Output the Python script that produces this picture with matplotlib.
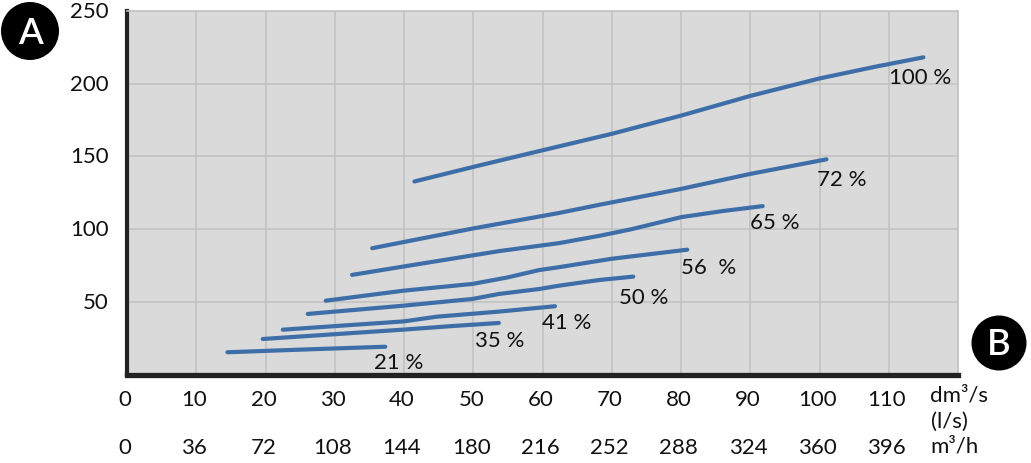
import matplotlib
matplotlib.use("Agg")
import matplotlib.pyplot as plt
from matplotlib.patches import Ellipse

plt.rcParams['font.family'] = ['Lato', 'DejaVu Sans']

# -- Data ----------------------------------------------------------------------
x_ticks = [0, 10, 20, 30, 40, 50, 60, 70, 80, 90, 100, 110]
x_ticks_m3h = ["0", "36", "72", "108", "144", "180", "216", "252", "288", "324", "360", "396"]
y_ticks = [50, 100, 150, 200, 250]

curve_labels = ["100 %", "72 %", "65 %", "56  %", "50 %", "41 %", "35 %", "21 %"]

x100 = [41.5, 50, 60, 70, 80, 90, 100, 108, 115]
y100 = [132.8, 142.8, 154.2, 165.5, 178, 191.5, 203.5, 211.5, 218]
x72 = [35.4, 49.9, 62.4, 68.2, 80, 90, 101]
y72 = [87, 100.5, 111.2, 116.8, 127.7, 138, 148]
x65 = [32.5, 40, 53.7, 62.4, 68.2, 72.8, 80, 86, 91.8]
y65 = [68.7, 74.5, 85, 90.5, 95.5, 100, 108.3, 112.5, 115.9]
x56 = [28.7, 40, 49.9, 55, 59.5, 62.4, 69.9, 80.9]
y56 = [51, 57.9, 62.5, 67, 72, 74, 79.7, 86]
x50 = [26.1, 40, 49.9, 53.7, 59.5, 62.4, 68.2, 73.1]
y50 = [41.9, 47.6, 52.2, 55.6, 59, 61.3, 65.2, 67.5]
x41 = [22.5, 40, 44.7, 53.7, 61.8]
y41 = [31.1, 36.8, 40, 43.5, 47.2]
x35 = [19.6, 30, 39.8, 47, 53.7]
y35 = [24.7, 28, 31.1, 33.6, 35.7]
x21 = [14.5, 25, 37.3]
y21 = [15.6, 17.4, 19.4]

xs = [x100, x72, x65, x56, x50, x41, x35, x21]
ys = [y100, y72, y65, y56, y50, y41, y35, y21]

# label anchor (left edge, vertical centre) in data units
lab_x = [110.1, 99.7, 89.9, 80.0, 71.1, 60.0, 50.2, 35.6]
lab_y = [204.7, 134.6, 104.9, 74.0, 53.8, 36.2, 24.2, 8.7]

# -- Figure --------------------------------------------------------------------
W, H = 1031, 464
fig = plt.figure(figsize=(W / 100, H / 100), dpi=100)
ax = fig.add_axes([127 / W, (H - 376) / H, (958 - 127) / W, (376 - 11.7) / H])
ax.set_facecolor("#dadada")
ax.set_xlim(0, 120)
ax.set_ylim(0, 250)

ax.set_xticks(range(0, 121, 10))
ax.set_yticks(range(0, 251, 50))
ax.grid(True, color="#c2c2c2", linewidth=1.2, zorder=0)
ax.set_axisbelow(True)
ax.tick_params(length=0, labelbottom=False, labelleft=False)

for side in ["top", "right"]:
    ax.spines[side].set_color("#c2c2c2")
    ax.spines[side].set_linewidth(1.2)
ax.spines["bottom"].set_color("#222222")
ax.spines["bottom"].set_linewidth(3.8)
ax.spines["left"].set_color("#222222")
ax.spines["left"].set_linewidth(3.0)

line_color = "#3e6ea8"
for xv, yv in zip(xs, ys):
    ax.plot(xv, yv, color=line_color, linewidth=3.0, solid_capstyle="round",
            solid_joinstyle="round", zorder=3)

fs = 16
for txt, lx, ly in zip(curve_labels, lab_x, lab_y):
    ax.text(lx, ly, txt, fontsize=fs, color="#111111", ha="left", va="center", zorder=4)

# y tick labels
ytr = ax.get_yaxis_transform()
for v in y_ticks:
    ax.text(-0.022, v, str(v), transform=ytr, fontsize=fs, ha="right", va="center",
            color="#111111", clip_on=False)

# x tick labels: two rows (dm3/s and m3/h)
xtr = ax.get_xaxis_transform()
row1 = -(400 - 376) / (376 - 11.7)
row2 = -(448 - 376) / (376 - 11.7)
for v, m in zip(x_ticks, x_ticks_m3h):
    ax.text(v - 0.3, row1, str(v), transform=xtr, fontsize=fs, ha="center", va="center",
            color="#111111", clip_on=False)
    ax.text(v - 0.3, row2, m, transform=xtr, fontsize=fs, ha="center", va="center",
            color="#111111", clip_on=False)

# unit labels
fig.text(930 / W, 1 - 396 / H, "dm³/s", fontsize=fs, ha="left", va="center", color="#111111")
fig.text(931 / W, 1 - 422 / H, "(l/s)", fontsize=fs, ha="left", va="center", color="#111111")
fig.text(930 / W, 1 - 447 / H, "m³/h", fontsize=fs, ha="left", va="center", color="#111111")

# axis badges A and B
for cx, cy, r, letter in [(30, 32, 29, "A"), (999, 344, 27.5, "B")]:
    ell = Ellipse((cx / W, 1 - cy / H), 2 * r / W, 2 * r / H, transform=fig.transFigure,
                  facecolor="black", edgecolor="none")
    fig.patches.append(ell)
    fig.text(cx / W, 1 - (cy + 1) / H, letter, fontsize=26, color="white",
             fontweight="semibold", ha="center", va="center")

fig.savefig("out.png", dpi=100)
